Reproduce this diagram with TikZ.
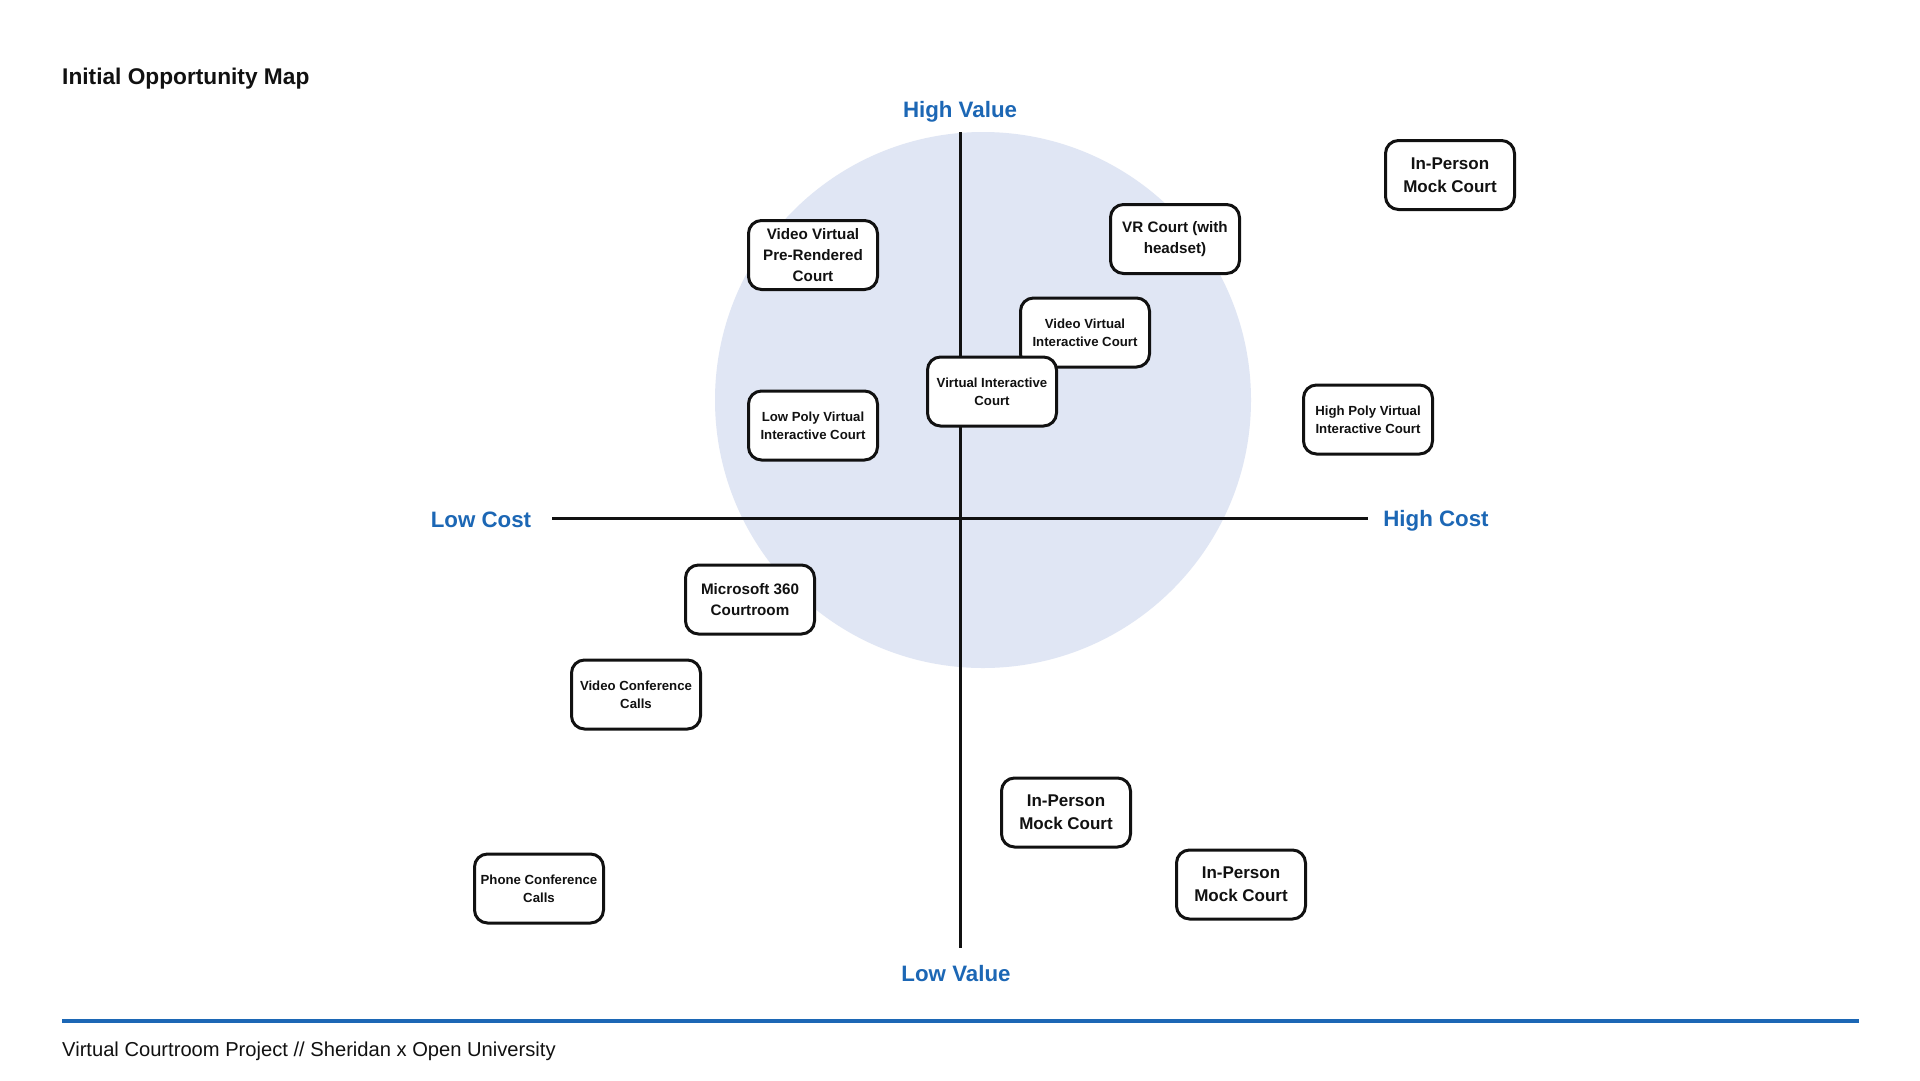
\documentclass[tikz,border=0pt]{standalone}
\usepackage{fontspec}
\setmainfont{Liberation Sans}
\definecolor{lblue}{HTML}{1C67B5}
\definecolor{circ}{HTML}{E0E6F4}
\definecolor{ink}{HTML}{111111}
\tikzset{
  opbox/.style={draw=ink, line width=3pt, rounded corners=13pt, fill=white,
    minimum width=129pt, minimum height=69pt, inner sep=0pt, align=center, text=ink},
  bigtxt/.style={font=\bfseries\fontsize{17}{23}\selectfont},
  midtxt/.style={font=\bfseries\fontsize{15.2}{20.8}\selectfont},
  smalltxt/.style={font=\bfseries\fontsize{13.2}{18.4}\selectfont},
  axislbl/.style={text=lblue, font=\bfseries\fontsize{22.3}{26}\selectfont, inner sep=0pt},
  axisline/.style={draw=ink, line width=3pt}
}
\begin{document}
\begin{tikzpicture}[x=1pt,y=-1pt]
\useasboundingbox (0,0) rectangle (1920,1080);
\fill[white] (0,0) rectangle (1920,1080);
% title
\node[anchor=west, inner sep=0pt, text=ink, font=\bfseries\fontsize{22.7}{27}\selectfont] (title) at (62,79) {Initial Opportunity Map};
% circle
\fill[circ] (983,400) circle[radius=268];
% axes
\coordinate (vt) at (960,132);
\coordinate (vb) at (960,948);
\coordinate (hl) at (552,518);
\coordinate (hr) at (1368,518);
\draw[axisline] (vt) -- (vb);
\draw[axisline] (hl) -- (hr);
% axis labels
\node[axislbl] (hv) at (960,111.5) {High Value};
\node[axislbl] (lv) at (956,973.5) {Low Value};
\node[axislbl] (lc) at (481,520) {Low Cost};
\node[axislbl] (hc) at (1436,521) {High Cost};
% boxes
\node[opbox, bigtxt] (ipm1) at (1450,175) {In-Person\\Mock Court};
\node[opbox, midtxt] (vr) at (1175,239) {VR Court (with\\headset)};
\node[opbox, midtxt] (vvpr) at (813,255) {Video Virtual\\Pre-Rendered\\Court};
\node[opbox, smalltxt] (vvic) at (1085,332.5) {Video Virtual\\Interactive Court};
\node[opbox, smalltxt] (vic) at (992,391.5) {Virtual Interactive\\Court};
\node[opbox, smalltxt] (lpvic) at (813,425.5) {Low Poly Virtual\\Interactive Court};
\node[opbox, smalltxt] (hpvic) at (1368,419.5) {High Poly Virtual\\Interactive Court};
\node[opbox, midtxt] (ms) at (750,599.5) {Microsoft 360\\Courtroom};
\node[opbox, smalltxt] (vcc) at (636,694.5) {Video Conference\\Calls};
\node[opbox, bigtxt] (ipm2) at (1066,812.5) {In-Person\\Mock Court};
\node[opbox, bigtxt] (ipm3) at (1241,884.5) {In-Person\\Mock Court};
\node[opbox, smalltxt] (pcc) at (539,888.5) {Phone Conference\\Calls};
% footer
\coordinate (fl) at (62,1021);
\coordinate (fr) at (1859,1021);
\draw[draw=lblue, line width=4pt] (fl) -- (fr);
\node[anchor=west, inner sep=0pt, text=ink, font=\fontsize{20.15}{24}\selectfont] (foot) at (62,1051) {Virtual Courtroom Project // Sheridan x Open University};
\end{tikzpicture}
\end{document}
